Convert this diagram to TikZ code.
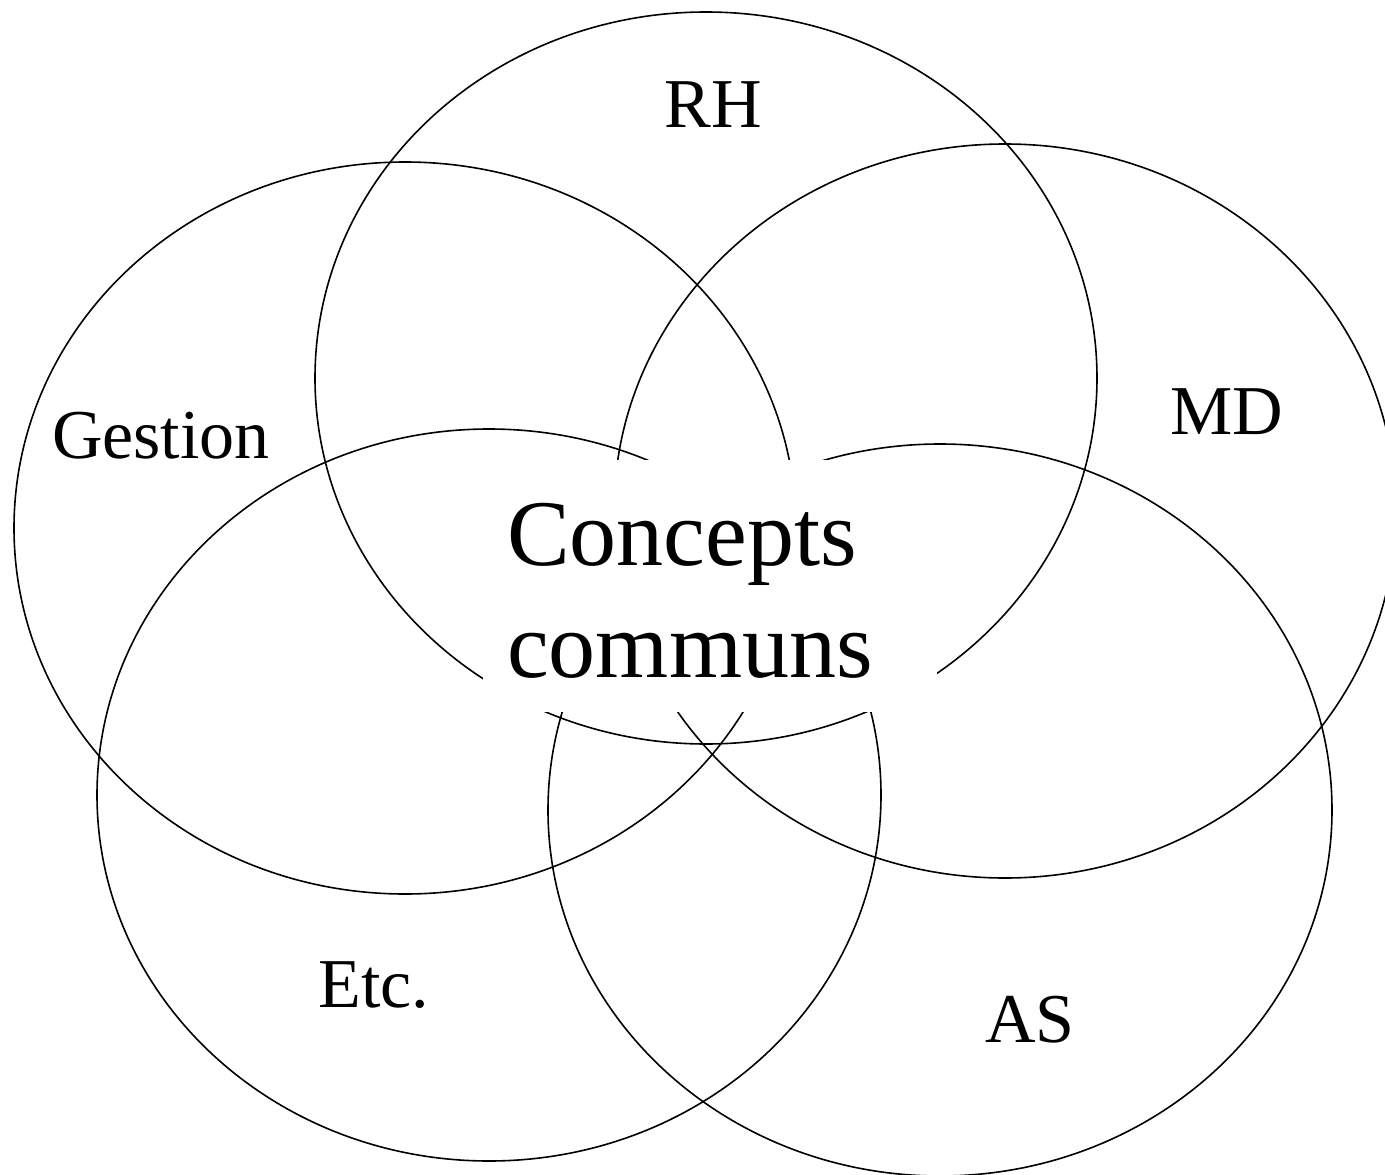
\documentclass[tikz,border=0pt]{standalone}
\usepackage{fontspec}
\setmainfont{Liberation Serif}

\begin{document}
\begin{tikzpicture}[x=1pt,y=1pt,yscale=-1,
	area/.style={line width=1.6},
	lbl/.style={anchor=base,font=\fontsize{70}{80}\selectfont,inner sep=0}]
	\useasboundingbox (0,0) rectangle (1385,1175);

	%Shape: Ellipse [RH] 
	\draw [area] (706,378) ellipse [x radius=391, y radius=366];
	%Shape: Ellipse [Gestion] 
	\draw [area] (405,528) ellipse [x radius=391, y radius=366];
	%Shape: Ellipse [MD] 
	\draw [area] (1005,511) ellipse [x radius=391, y radius=367];
	%Shape: Ellipse [Etc] 
	\draw [area] (489,795) ellipse [x radius=392, y radius=366];
	%Shape: Ellipse [AS] 
	\draw [area] (940,810) ellipse [x radius=392, y radius=366];

	% Text Node
	\node [fill=white, minimum width=454, minimum height=252, inner sep=0] (core) at (710,586) {};
	% Text Node
	\node [anchor=base west, inner sep=0, font=\fontsize{94}{112}\selectfont] (concepts) at (507,565) {Concepts};
	% Text Node
	\node [anchor=base west, inner sep=0, font=\fontsize{94}{112}\selectfont] (communs) at (507,677) {communs};

	% Text Node
	\node [lbl] (rh) at (713,127) {RH};
	% Text Node
	\node [lbl] (gestion) at (161,458) {Gestion};
	% Text Node
	\node [lbl] (md) at (1227,434) {MD};
	% Text Node
	\node [lbl] (etc) at (374,1007) {Etc.};
	% Text Node
	\node [lbl] (as) at (1030,1042) {AS};
\end{tikzpicture}
\end{document}
